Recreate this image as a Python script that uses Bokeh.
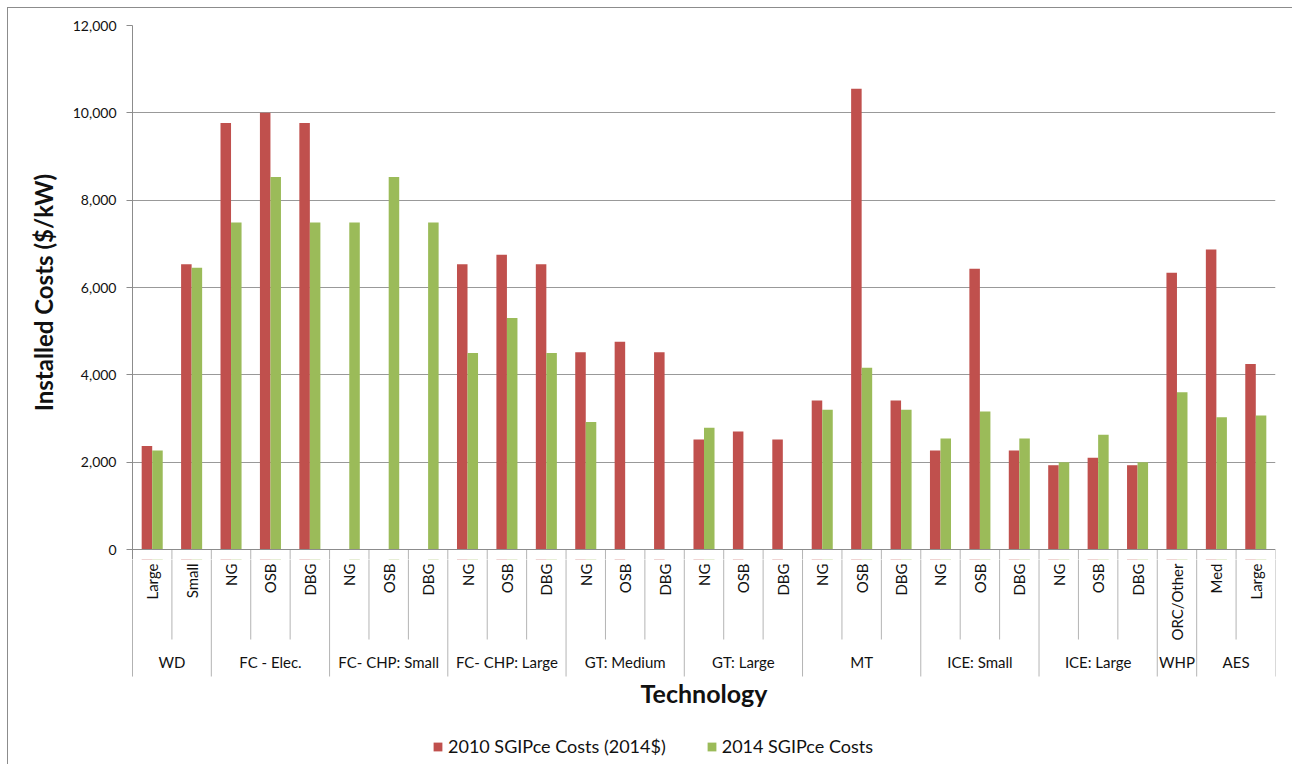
import math
import numpy as np
from bokeh.plotting import figure
from bokeh.layouts import column
from bokeh.models import (ColumnDataSource, Range1d, FixedTicker, NumeralTickFormatter,
                          LinearAxis, Legend, LegendItem, Grid)
from bokeh.core.properties import value
from bokeh.embed import file_html
from bokeh.resources import INLINE

NAN = float("nan")

groups = ["WD", "FC - Elec.", "FC- CHP: Small", "FC- CHP: Large", "GT: Medium",
          "GT: Large", "MT", "ICE: Small", "ICE: Large", "WHP", "AES"]
subcats = [
    ["Large", "Small"],
    ["NG", "OSB", "DBG"],
    ["NG", "OSB", "DBG"],
    ["NG", "OSB", "DBG"],
    ["NG", "OSB", "DBG"],
    ["NG", "OSB", "DBG"],
    ["NG", "OSB", "DBG"],
    ["NG", "OSB", "DBG"],
    ["NG", "OSB", "DBG"],
    ["ORC/Other"],
    ["Med", "Large"],
]
costs_2010 = [2370, 6530,
              9770, 10000, 9770,
              NAN, NAN, NAN,
              6530, 6750, 6530,
              4520, 4760, 4520,
              2520, 2700, 2520,
              3410, 10550, 3410,
              2270, 6430, 2270,
              1930, 2100, 1930,
              6340,
              6870, 4250]
costs_2014 = [2270, 6450,
              7490, 8530, 7490,
              7490, 8530, 7490,
              4500, 5300, 4500,
              2920, NAN, NAN,
              2790, NAN, NAN,
              3200, 4160, 3200,
              2540, 3160, 2540,
              2000, 2630, 2000,
              3600,
              3030, 3070]
y_ticks = [0, 2000, 4000, 6000, 8000, 10000, 12000]
series_names = ["2010 SGIPce Costs (2014$)", "2014 SGIPce Costs"]
colors = ["#C0504D", "#9BBB59"]
y_title = "Installed Costs ($/kW)"
x_title = "Technology"

FONT = "Lato"
TXT = "#111111"
GRID = "#999999"
AXIS = "#8c8c8c"
SEP = "#b4b4b4"

sub_labels = [s for g in subcats for s in g]
n = len(sub_labels)
centers = np.arange(n) + 0.5
bw = 0.267

xr = Range1d(0, n)
W = 1284
LEFT = 124
RIGHT = 17

# pixel layout of the value axis
FRAME_H = 524          # px from 0 to 12000
EXTRA = 10             # px of frame kept below the zero line
PXU = FRAME_H / 12000.0
ybot = -EXTRA / PXU

gstart = []
pos = 0
for g in subcats:
    gstart.append(pos)
    pos += len(g)
sub_sep = [i for i in range(1, n) if i not in gstart]
grp_sep = gstart + [n]

# ---------------- top: bars ----------------
p = figure(width=W, height=17 + FRAME_H + EXTRA, output_backend="svg",
           toolbar_location=None, x_range=xr, y_range=Range1d(ybot, 12000),
           min_border_left=LEFT, min_border_right=RIGHT, min_border_top=17,
           min_border_bottom=0, x_axis_location=None, y_axis_location=None)
p.outline_line_color = None
p.xgrid.visible = False
p.ygrid.visible = False

yax = LinearAxis(ticker=FixedTicker(ticks=y_ticks),
                 formatter=NumeralTickFormatter(format="0,0"), axis_label=y_title)
yax.axis_line_color = AXIS
yax.major_tick_line_color = AXIS
yax.major_tick_out = 6
yax.major_tick_in = 0
yax.minor_tick_line_color = None
yax.major_label_text_font = FONT
yax.major_label_text_font_size = "14px"
yax.major_label_text_color = TXT
yax.major_label_standoff = 10
yax.axis_label_text_font = FONT
yax.axis_label_text_font_size = "24px"
yax.axis_label_text_font_style = "bold"
yax.axis_label_text_color = TXT
yax.axis_label_standoff = 12
p.add_layout(yax, "left")
p.add_layout(Grid(dimension=1, ticker=FixedTicker(ticks=y_ticks[1:]),
                  grid_line_color=GRID, grid_line_width=1))

src = ColumnDataSource(dict(x1=centers - bw / 2, x2=centers + bw / 2,
                            a=costs_2010, b=costs_2014))
r1 = p.vbar(x="x1", top="a", bottom=0, width=bw, source=src,
            fill_color=colors[0], line_color=None)
r2 = p.vbar(x="x2", top="b", bottom=0, width=bw, source=src,
            fill_color=colors[1], line_color=None)
p.segment(x0=sub_sep + grp_sep, x1=sub_sep + grp_sep,
          y0=[0] * (len(sub_sep) + len(grp_sep)),
          y1=[ybot] * (len(sub_sep) + len(grp_sep)), line_color=SEP, line_width=1)
p.segment(x0=[0], x1=[n], y0=[0], y1=[0], line_color=AXIS, line_width=1)

# ---------------- bottom: category labels, title, legend ----------------
HB = 205
q = figure(width=W, height=HB, output_backend="svg", toolbar_location=None,
           x_range=xr, y_range=Range1d(-(EXTRA + HB), -EXTRA),
           min_border_left=LEFT, min_border_right=RIGHT, min_border_top=0,
           min_border_bottom=0, x_axis_location=None, y_axis_location=None)
q.outline_line_color = None
q.xgrid.visible = False
q.ygrid.visible = False

q.segment(x0=sub_sep, x1=sub_sep, y0=[0] * len(sub_sep), y1=[-90] * len(sub_sep),
          line_color=SEP, line_width=1)
q.segment(x0=grp_sep, x1=grp_sep, y0=[0] * len(grp_sep), y1=[-127] * len(grp_sep),
          line_color=SEP, line_width=1)
q.segment(x0=[0], x1=[0], y0=[0], y1=[-127], line_color=AXIS, line_width=1)

lsrc = ColumnDataSource(dict(x=centers, lab=sub_labels))
q.text(x="x", y=-14, text="lab", source=lsrc, angle=math.pi / 2,
       text_align="right", text_baseline="middle", text_font=value(FONT),
       text_font_size="15px", text_color=TXT)
gcent = [gstart[i] + len(subcats[i]) / 2 for i in range(len(groups))]
q.text(x=gcent, y=[-112] * len(groups), text=groups, text_align="center",
       text_baseline="middle", text_font=value(FONT), text_font_size="15px",
       text_color=TXT)
q.text(x=[n / 2], y=[-143], text=[x_title], text_align="center",
       text_baseline="middle", text_font=value(FONT), text_font_size="25px",
       text_font_style="bold", text_color=TXT)

# legend swatches: same series, lying outside this panel's visible value range
d1 = q.vbar(x="x1", top="a", bottom=0, width=bw, source=src,
            fill_color=colors[0], line_color=None)
d2 = q.vbar(x="x2", top="b", bottom=0, width=bw, source=src,
            fill_color=colors[1], line_color=None)
legend = Legend(items=[LegendItem(label=series_names[0], renderers=[d1], index=0),
                       LegendItem(label=series_names[1], renderers=[d2], index=0)],
                orientation="horizontal", location=(300, 7),
                label_text_font=FONT, label_text_font_size="18px",
                label_text_color=TXT, glyph_width=11, glyph_height=11,
                spacing=40, label_standoff=5, border_line_color=None,
                background_fill_alpha=0, padding=0, margin=0)
q.add_layout(legend, "center")

layout = column(p, q, spacing=0,
                styles={"margin-left": "7px", "margin-top": "7px",
                        "border-left": "1px solid #8c8c8c",
                        "border-top": "1px solid #8c8c8c"})
open("out.html", "w").write(file_html(layout, INLINE))
